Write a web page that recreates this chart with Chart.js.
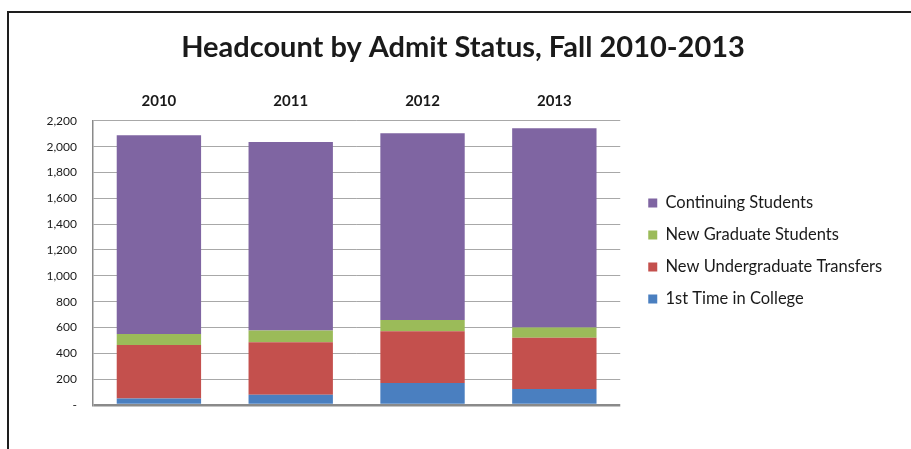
<!DOCTYPE html>
<html>
<head>
<meta charset="utf-8">
<script src="https://cdn.jsdelivr.net/npm/chart.js@4.4.0/dist/chart.umd.min.js"></script>
<style>
  html, body { margin: 0; padding: 0; background: #fff; }
  #wrap { position: relative; width: 911px; height: 449px; overflow: hidden; }
  #c { position: absolute; left: 0; top: 0; }
  #frame { position: absolute; left: 7px; top: 11px; width: 1000px; height: 1000px;
           border-left: 2.5px solid #1e1e1e; border-top: 2.5px solid #1e1e1e; pointer-events: none; }
</style>
</head>
<body>
<div id="wrap">
  <canvas id="c" width="911" height="449"></canvas>
  <div id="frame"></div>
</div>
<script>
const categories = ['2010', '2011', '2012', '2013'];
const firstTime = [50, 80, 170, 124];
const ugTransfers = [415, 406, 401, 397];
const newGrad = [85, 90, 87, 78];
const continuing = [1539, 1459, 1446, 1544];
const yTicks = [0, 200, 400, 600, 800, 1000, 1200, 1400, 1600, 1800, 2000, 2200];

const FONT = 'Lato, "Open Sans", sans-serif';

// Layout adjustments: widen the legend box (avoid clipping), nudge it, and centre the title like the reference.
const layoutTweak = {
  id: 'layoutTweak',
  afterLayout(chart) {
    const l = chart.legend;
    if (l) {
      l.left = chart.chartArea.right + 12.5;
      l.right = chart.width;
      l.width = l.right - l.left;
      l.top -= 12; l.bottom -= 12;
    }
    const t = chart.titleBlock;
    if (t) {
      t.left = 15; t.right = chart.width; t.width = t.right - t.left;
    }
  }
};

new Chart(document.getElementById('c'), {
  type: 'bar',
  data: {
    labels: categories,
    datasets: [
      { label: '1st Time in College', data: firstTime, backgroundColor: '#4A7FC0' },
      { label: 'New Undergraduate Transfers', data: ugTransfers, backgroundColor: '#C4504D' },
      { label: 'New Graduate Students', data: newGrad, backgroundColor: '#9BBB59' },
      { label: 'Continuing Students', data: continuing, backgroundColor: '#7F65A2' }
    ]
  },
  options: {
    responsive: false,
    animation: false,
    layout: { padding: { left: 0, right: 84, top: 0, bottom: 44 } },
    datasets: { bar: { categoryPercentage: 1.0, barPercentage: 0.64 } },
    plugins: {
      title: {
        display: true,
        text: 'Headcount by Admit Status, Fall 2010-2013',
        color: '#1a1a1a',
        font: { family: FONT, size: 29, weight: 'bold', lineHeight: 1.2 },
        padding: { top: 30, bottom: 21 }
      },
      legend: {
        position: 'right',
        fullSize: false,
        reverse: true,
        labels: {
          boxWidth: 9, boxHeight: 9,
          padding: 15.5,
          color: '#1a1a1a',
          font: { family: FONT, size: 16.5 }
        }
      },
      tooltip: { enabled: false }
    },
    scales: {
      x: {
        position: 'top',
        stacked: true,
        grid: { display: false },
        border: { display: false },
        ticks: { color: '#1a1a1a', font: { family: FONT, size: 15, weight: 'bold' }, padding: 3 },
        afterFit(s) { s.height = 35; }
      },
      y: {
        stacked: true,
        min: 0, max: 2200,
        afterBuildTicks(s) { s.ticks = yTicks.map(v => ({ value: v })); },
        afterFit(s) { s.width = 93; },
        border: { display: true, color: '#8a8a8a', width: 1.5 },
        grid: {
          drawTicks: false,
          color: ctx => (ctx.tick && ctx.tick.value === 0) ? '#8a8a8a' : '#a8a8a8',
          lineWidth: ctx => (ctx.tick && ctx.tick.value === 0) ? 2.5 : 1
        },
        ticks: {
          padding: 16,
          color: '#1a1a1a',
          font: { family: FONT, size: 12 },
          callback: v => v === 0 ? '-' : v.toLocaleString('en-US')
        }
      }
    }
  },
  plugins: [layoutTweak]
});
</script>
</body>
</html>
